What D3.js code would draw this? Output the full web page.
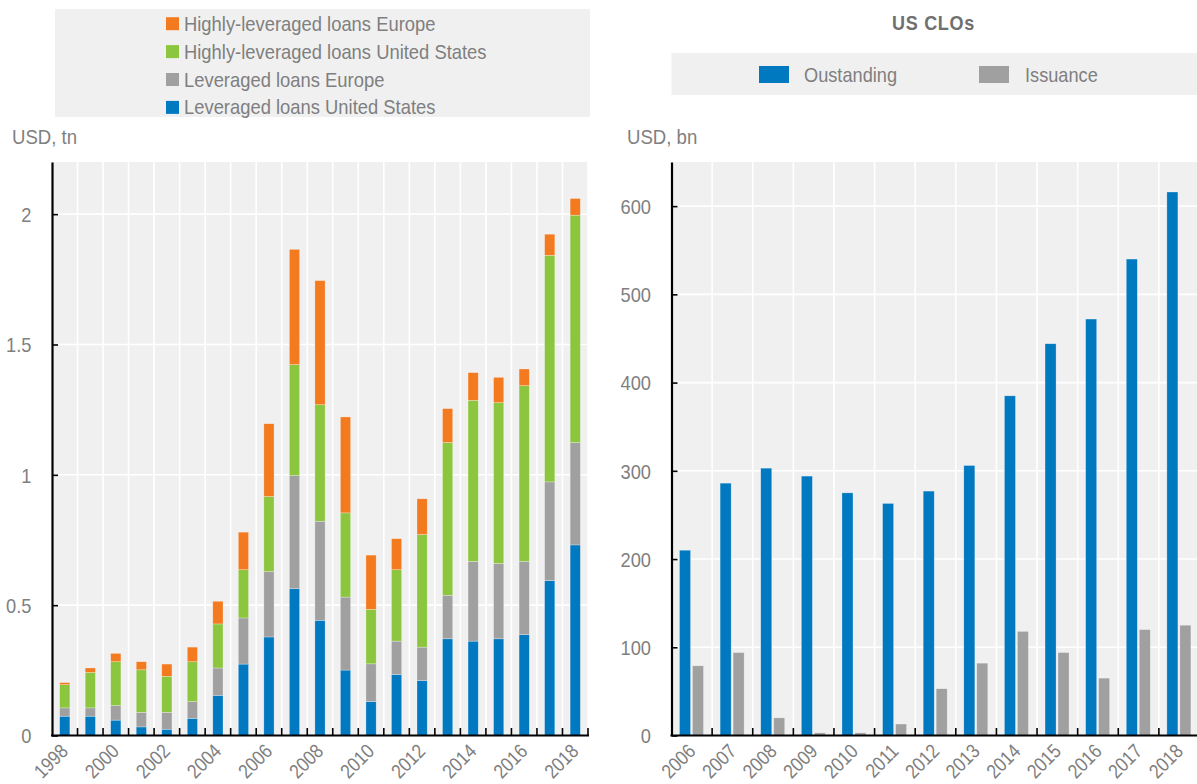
<!DOCTYPE html>
<html>
<head>
<meta charset="utf-8">
<script src="https://cdn.jsdelivr.net/npm/d3@7"></script>
<style>
  body { margin: 0; background: #ffffff; }
  svg text {
    font-family: "Liberation Sans Narrow", "Arial Narrow", "Liberation Sans", Arial, sans-serif;
    fill: #7f7f7f;
  }
</style>
</head>
<body>
<svg id="chart" width="1197" height="784"></svg>
<script>
// ---- Leveraged loans outstanding (USD tn) ----
const loanYears = ["1998","1999","2000","2001","2002","2003","2004","2005","2006","2007",
                   "2008","2009","2010","2011","2012","2013","2014","2015","2016","2017","2018"];
const levLoansUS = [0.074,0.074,0.059,0.033,0.024,0.066,0.154,0.274,0.378,0.563,
                    0.442,0.251,0.130,0.234,0.211,0.371,0.362,0.371,0.387,0.594,0.731];
const levLoansEurope = [0.032,0.032,0.056,0.056,0.065,0.064,0.105,0.177,0.251,0.434,
                        0.380,0.280,0.145,0.128,0.128,0.167,0.306,0.289,0.281,0.379,0.393];
const highlyLevUS = [0.089,0.136,0.168,0.163,0.138,0.153,0.169,0.185,0.288,0.426,
                     0.447,0.323,0.209,0.274,0.432,0.586,0.618,0.617,0.674,0.869,0.872];
const highlyLevEurope = [0.008,0.017,0.032,0.031,0.047,0.056,0.087,0.144,0.279,0.442,
                         0.476,0.368,0.208,0.119,0.137,0.130,0.106,0.097,0.064,0.081,0.064];
const loanSeriesNames = ["Leveraged loans United States","Leveraged loans Europe",
                         "Highly-leveraged loans United States","Highly-leveraged loans Europe"];
const loanColors = ["#0079c1","#a0a0a0","#8cc63f","#f47a20"];
const loanTicks = [0, 0.5, 1, 1.5, 2];
const loanTickLabels = ["0", "0.5", "1", "1.5", "2"];
const loanYearLabels = ["1998","2000","2002","2004","2006","2008","2010","2012","2014","2016","2018"];

// ---- US CLOs (USD bn) ----
const cloYears = ["2006","2007","2008","2009","2010","2011","2012","2013","2014","2015","2016","2017","2018"];
const cloOutstanding = [210,286,303,294,275,263,277,306,385,444,472,540,616];
const cloIssuance = [79,94,20,3,3,13,53,82,118,94,65,120,125];
const cloSeriesNames = ["Oustanding","Issuance"];
const cloColors = ["#0079c1","#a0a0a0"];
const cloTicks = [0,100,200,300,400,500,600];

const svg = d3.select("#chart");
const plotBg = "#f0f0f0";

// condensed-looking text: regular sans squeezed horizontally
function narrowText(parent, x, y, str, opts = {}) {
  const sx = opts.sx || 0.9;
  const t = parent.append("text")
    .attr("transform", `translate(${x},${y})${opts.rotate ? ` rotate(${opts.rotate})` : ""} scale(${sx},1)`)
    .attr("font-size", opts.size || 20)
    .attr("text-anchor", opts.anchor || "start")
    .attr("dy", opts.dy || "0.35em")
    .text(str);
  if (opts.bold) t.attr("font-weight", "bold");
  if (opts.fill) t.style("fill", opts.fill);
  if (opts.ls) t.attr("letter-spacing", opts.ls);
  return t;
}

// ================= Left panel: stacked bars =================
const L = { left: 52, right: 588, top: 162, bottom: 735.5 };

// legend
const legL = svg.append("g");
legL.append("rect").attr("x", 55).attr("y", 9).attr("width", 535).attr("height", 108).attr("fill", plotBg);
const legendOrder = [3, 2, 1, 0];
legendOrder.forEach((si, i) => {
  const cy = 23.7 + i * 27.9;
  legL.append("rect").attr("x", 166).attr("y", cy - 6.5).attr("width", 13).attr("height", 13)
      .attr("fill", loanColors[si]);
  narrowText(legL, 184, cy, loanSeriesNames[si], { sx: 0.92, size: 20 });
});

narrowText(svg, 12, 137, "USD, tn", { sx: 0.93, size: 20 });

const xL = d3.scaleBand().domain(loanYears).range([L.left, L.right]).paddingInner(0.6).paddingOuter(0.3);
const yL = d3.scaleLinear().domain([0, 2.2]).range([L.bottom, L.top]);

const gL = svg.append("g");
gL.append("rect").attr("x", L.left).attr("y", L.top).attr("width", L.right - L.left)
  .attr("height", L.bottom - L.top).attr("fill", plotBg);

const bandEdgesL = loanYears.map(d => xL(d) - xL.step() * xL.paddingInner() / 2).concat([L.right]);
// grid
gL.selectAll("line.vg").data(bandEdgesL.slice(1)).join("line")
  .attr("x1", d => d).attr("x2", d => d).attr("y1", L.top).attr("y2", L.bottom)
  .attr("stroke", "#ffffff").attr("stroke-width", 1.6);
gL.selectAll("line.hg").data(loanTicks.slice(1)).join("line")
  .attr("x1", L.left).attr("x2", L.right).attr("y1", d => yL(d)).attr("y2", d => yL(d))
  .attr("stroke", "#ffffff").attr("stroke-width", 1.6);

// stacked bars
const loanTable = loanYears.map((y, i) => ({
  year: y, s0: levLoansUS[i], s1: levLoansEurope[i], s2: highlyLevUS[i], s3: highlyLevEurope[i]
}));
const stacked = d3.stack().keys(["s0","s1","s2","s3"])(loanTable);
gL.selectAll("g.layer").data(stacked).join("g")
  .attr("fill", (d, i) => loanColors[i])
  .selectAll("rect").data(d => d).join("rect")
  .attr("x", d => xL(d.data.year))
  .attr("width", xL.bandwidth())
  .attr("y", d => yL(d[1]))
  .attr("height", d => yL(d[0]) - yL(d[1]))
  .attr("stroke", "rgba(255,255,255,0.45)").attr("stroke-width", 0.6);

// y axis: ticks point into the plot, labels squeezed
function styleYAxis(sel) {
  sel.select(".domain").attr("stroke", "#000").attr("stroke-width", 2.2);
  sel.selectAll(".tick line").attr("stroke", "#000").attr("stroke-width", 1.6);
  sel.selectAll(".tick text")
    .attr("x", null).attr("dy", "0.35em")
    .attr("transform", "translate(-20.5,0) scale(0.87,1)")
    .attr("font-size", 21).attr("fill", null).attr("font-family", null);
}
const yAxisL = d3.axisLeft(yL).tickValues(loanTicks).tickFormat((d, i) => loanTickLabels[i])
  .tickSizeInner(-6).tickSizeOuter(0).tickPadding(21);
gL.append("g").attr("transform", `translate(${L.left},0)`).call(yAxisL).call(styleYAxis);

// x axis baseline + inner ticks at band edges
gL.append("line").attr("x1", L.left - 1).attr("x2", L.right + 1).attr("y1", L.bottom).attr("y2", L.bottom)
  .attr("stroke", "#000").attr("stroke-width", 2.2);
gL.selectAll("line.xt").data(bandEdgesL.slice(1)).join("line")
  .attr("x1", d => d).attr("x2", d => d).attr("y1", L.bottom).attr("y2", L.bottom - 7.5)
  .attr("stroke", "#000").attr("stroke-width", 1.6);
loanYearLabels.forEach(d => {
  narrowText(gL, xL(d) + xL.bandwidth() / 2 + 4.5, L.bottom + 17, d,
             { sx: 0.86, size: 20, anchor: "end", rotate: -45, dy: "0" });
});

// ================= Right panel: grouped bars =================
const R = { left: 671.5, right: 1199.5, top: 162, bottom: 735.5 };

narrowText(svg, 933.5, 23, "US CLOs", { sx: 0.9, size: 20, anchor: "middle", bold: true, fill: "#6f6f6f", ls: 0.8 });

const legR = svg.append("g");
legR.append("rect").attr("x", 671.5).attr("y", 53).attr("width", 530).attr("height", 42).attr("fill", plotBg);
const legRPos = [{ rx: 759, tx: 804 }, { rx: 979, tx: 1025 }];
cloSeriesNames.forEach((name, i) => {
  legR.append("rect").attr("x", legRPos[i].rx).attr("y", 66).attr("width", 30).attr("height", 17)
      .attr("fill", cloColors[i]);
  narrowText(legR, legRPos[i].tx, 75, name, { sx: 0.91, size: 20 });
});

narrowText(svg, 627, 137, "USD, bn", { sx: 0.93, size: 20 });

const xR = d3.scaleBand().domain(cloYears).range([R.left, R.right]).paddingInner(0).paddingOuter(0);
const xRin = d3.scaleBand().domain(["out","iss"]).range([8, 32]).paddingInner(0.15);
const yR = d3.scaleLinear().domain([0, 650]).range([R.bottom, R.top]);

const gR = svg.append("g");
gR.append("rect").attr("x", R.left).attr("y", R.top).attr("width", R.right - R.left)
  .attr("height", R.bottom - R.top).attr("fill", plotBg);

const bandEdgesR = cloYears.map(d => xR(d)).concat([R.right]);
gR.selectAll("line.vg").data(bandEdgesR.slice(1)).join("line")
  .attr("x1", d => d).attr("x2", d => d).attr("y1", R.top).attr("y2", R.bottom)
  .attr("stroke", "#ffffff").attr("stroke-width", 1.6);
gR.selectAll("line.hg").data(cloTicks.slice(1)).join("line")
  .attr("x1", R.left).attr("x2", R.right).attr("y1", d => yR(d)).attr("y2", d => yR(d))
  .attr("stroke", "#ffffff").attr("stroke-width", 1.6);

const cloTable = cloYears.map((y, i) => ({ year: y, out: cloOutstanding[i], iss: cloIssuance[i] }));
const groups = gR.selectAll("g.grp").data(cloTable).join("g")
  .attr("transform", d => `translate(${xR(d.year)},0)`);
groups.selectAll("rect").data(d => ["out","iss"].map((k, i) => ({ key: k, value: d[k], c: cloColors[i] })))
  .join("rect")
  .attr("x", d => xRin(d.key))
  .attr("width", xRin.bandwidth())
  .attr("y", d => yR(d.value))
  .attr("height", d => yR(0) - yR(d.value))
  .attr("fill", d => d.c)
  .attr("stroke", "rgba(255,255,255,0.45)").attr("stroke-width", 0.6);

const yAxisR = d3.axisLeft(yR).tickValues(cloTicks).tickSizeInner(-6).tickSizeOuter(0).tickPadding(20);
gR.append("g").attr("transform", `translate(${R.left},0)`).call(yAxisR).call(styleYAxis);

gR.append("line").attr("x1", R.left - 1).attr("x2", R.right).attr("y1", R.bottom).attr("y2", R.bottom)
  .attr("stroke", "#000").attr("stroke-width", 2.2);
gR.selectAll("line.xt").data(bandEdgesR.slice(1)).join("line")
  .attr("x1", d => d).attr("x2", d => d).attr("y1", R.bottom).attr("y2", R.bottom - 7.5)
  .attr("stroke", "#000").attr("stroke-width", 1.6);
cloYears.forEach(d => {
  narrowText(gR, xR(d) + xR.bandwidth() / 2 + 5, R.bottom + 17, d,
             { sx: 0.86, size: 20, anchor: "end", rotate: -45, dy: "0" });
});
</script>
</body>
</html>
